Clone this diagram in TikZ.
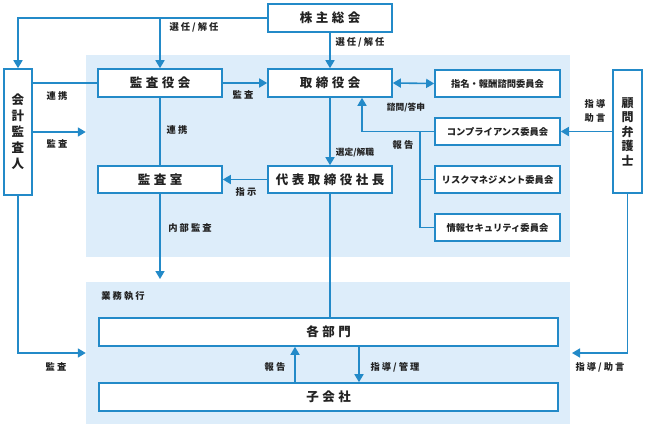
\documentclass[tikz,border=0pt]{standalone}
\usepackage{fontspec}
\usetikzlibrary{arrows.meta}
\newfontfamily\jpbig[LetterSpace=28]{Noto Sans CJK JP}
\newfontfamily\jpsmall[LetterSpace=22]{Noto Sans CJK JP}
\newfontfamily\jpplain{Noto Sans CJK JP}
\definecolor{lineblue}{RGB}{35,138,200}
\definecolor{panelblue}{RGB}{221,237,250}
\definecolor{txt}{RGB}{34,34,34}
\begin{document}
\begin{tikzpicture}[x=1pt,y=-1pt,
  panel/.style={fill=panelblue, draw=none, inner sep=0pt},
  box/.style={draw=lineblue, line width=1.6pt, fill=white, inner sep=0pt, text=txt,
    font=\jpbig\bfseries\fontsize{12.5}{14}\selectfont},
  cbox/.style={draw=lineblue, line width=1.6pt, fill=white, inner sep=0pt, text=txt,
    minimum width=125pt, minimum height=27pt, font=\jpplain\bfseries\fontsize{9.3}{11}\selectfont},
  vbox/.style={draw=lineblue, line width=1.6pt, fill=white, inner sep=0pt, text=txt, align=center},
  lab/.style={text=txt, inner sep=0pt, font=\jpsmall\bfseries\fontsize{9.3}{11}\selectfont},
  labn/.style={text=txt, inner sep=0pt, font=\jpplain\bfseries\fontsize{8.7}{11}\selectfont},
  conn/.style={draw=lineblue, line width=1.6pt},
  arr/.style={conn, -{Triangle[length=8pt,width=9pt]}},
  darr/.style={conn, {Triangle[length=8pt,width=9pt]}-{Triangle[length=8pt,width=9pt]}}
]
\useasboundingbox (0,0) rectangle (647,432);
\fill[white] (0,0) rectangle (647,432);

% panels
\node[panel, minimum width=484pt, minimum height=202pt] (upperpanel) at (328,156) {};
\node[panel, minimum width=484pt, minimum height=142pt] (lowerpanel) at (328,353) {};

% boxes
\node[box, minimum width=124pt, minimum height=28pt] (kabunushi) at (330,18) {株主総会};
\node[box, minimum width=124pt, minimum height=28pt] (kansayaku) at (160,83) {監査役会};
\node[box, minimum width=124pt, minimum height=28pt] (torishimari) at (330,83) {取締役会};
\node[box, minimum width=124pt, minimum height=27pt] (kansashitsu) at (160,179.5) {監査室};
\node[box, minimum width=124pt, minimum height=27pt] (daihyo) at (330,179.5) {代表取締役社長};
\node[cbox] (shimei) at (497.5,83.5) {指名・報酬諮問委員会};
\node[cbox] (comp) at (497.5,131.5) {コンプライアンス委員会};
\node[cbox] (risk) at (497.5,179.5) {リスクマネジメント委員会};
\node[cbox] (info) at (497.5,227.5) {情報セキュリティ委員会};
\node[vbox, minimum width=28pt, minimum height=126pt,
  font=\jpplain\bfseries\fontsize{12.5}{16}\selectfont] (kaikei) at (18,132) {会\\計\\監\\査\\人};
\node[vbox, minimum width=29pt, minimum height=123pt,
  font=\jpplain\bfseries\fontsize{12}{14.5}\selectfont] (komon) at (627.5,131.5) {顧\\問\\弁\\護\\士};
\node[box, minimum width=459pt, minimum height=28pt] (kakubu) at (328.5,332) {各部門};
\node[box, minimum width=459pt, minimum height=28pt] (kogaisha) at (328.5,397) {子会社};

% connectors
\draw[arr] (kabunushi.west) -| (kaikei.north);
\draw[arr] (kabunushi.west -| kansayaku.north) -- (kansayaku.north);
\draw[arr] (kabunushi.south) -- (torishimari.north);
\draw[arr] (kansayaku.east) -- (torishimari.west);
\draw[conn] (kaikei.east |- kansayaku.west) -- (kansayaku.west);
\draw[arr] (kaikei.east) -- (upperpanel.west |- kaikei.east);
\draw[conn] (kansayaku.south) -- (kansashitsu.north);
\coordinate (iaend) at (160,279);
\draw[arr] (kansashitsu.south) -- (iaend);
\draw[arr] (daihyo.west) -- (kansashitsu.east);
\draw[arr] (torishimari.south) -- (daihyo.north);
\draw[conn] (daihyo.south) -- (daihyo.south |- kakubu.north);
\draw[darr] (torishimari.east) -- (shimei.west);
\draw[arr] (comp.west) -| ([xshift=32pt]torishimari.south);
\coordinate (rv) at (420,131.5);
\draw[conn] (rv) |- (risk.west);
\draw[conn] (rv) |- (info.west);
\draw[arr] (komon.west) -- (comp.east);
\coordinate (kr) at (572,353);
\draw[arr] (komon.south) |- (kr);
\draw[arr] (kaikei.south) |- (lowerpanel.west);
\draw[arr] ([xshift=-33.5pt]kogaisha.north) -- ([xshift=-33.5pt]kakubu.south);
\draw[arr] ([xshift=30.5pt]kakubu.south) -- ([xshift=30.5pt]kogaisha.north);

% labels
\node[lab] (l1) at (194,27) {選任/解任};
\node[lab] (l2) at (360,42) {選任/解任};
\node[lab] (l3) at (243,95) {監査};
\node[lab] (l4) at (57,96) {連携};
\node[lab] (l5) at (57,144) {監査};
\node[lab] (l6) at (177,130) {連携};
\node[lab] (l7) at (246,192) {指示};
\node[lab] (l8) at (190,228) {内部監査};
\node[labn] (l9) at (355,153) {選定/解職};
\node[labn] (l10) at (406,108) {諮問/答申};
\node[lab] (l11) at (403,145) {報告};
\node[lab, align=center, font=\jpsmall\bfseries\fontsize{9.3}{14}\selectfont] (l12) at (595,111) {指導\\助言};
\node[lab] (l13) at (123,296) {業務執行};
\node[lab] (l14) at (56,367) {監査};
\node[lab] (l15) at (275,367) {報告};
\node[lab] (l16) at (395,367) {指導/管理};
\node[lab] (l17) at (600,367) {指導/助言};
\end{tikzpicture}
\end{document}
